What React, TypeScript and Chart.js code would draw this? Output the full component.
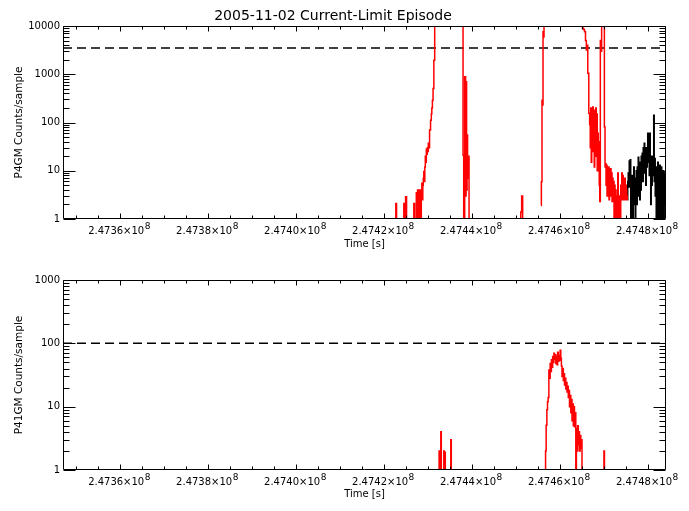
import React, { useEffect, useRef } from "react";
import { Chart, registerables } from "chart.js";

Chart.register(...registerables);

// "Z" marks samples with zero counts (below the log axis)
const Z = 0.5;

const timeRange = [247347000, 247484100];
const xTickValues = [247360000, 247380000, 247400000, 247420000, 247440000, 247460000, 247480000];
const xTickLabels = ["2.4736×10", "2.4738×10", "2.4740×10", "2.4742×10", "2.4744×10", "2.4746×10", "2.4748×10"];
const xTickExponent = "8";
const xMinorStep = 5000;
const topYTicks = [1, 10, 100, 1000, 10000];
const bottomYTicks = [1, 10, 100, 1000];
const p4gmLimit = 3500;
const p41gmLimit = 100;

const p4gmRed: [number, number | null][] = [
  [247347000, Z], [247422614, Z], [247422728, 2.1], [247422955, Z], [247424432, Z], [247424546, 2.1],
  [247424773, Z], [247425000, 2.9], [247425228, Z], [247426705, Z], [247426819, 2.1], [247427046, Z],
  [247427273, Z], [247427387, 3.5],
  [247427500, Z], [247427728, 4], [247427841, Z], [247427955, 3], [247428069, Z], [247428182, 4],
  [247428296, 2], [247428409, Z], [247428523, 3], [247428637, 5.5], [247428750, 2.5], [247428864, 5],
  [247428978, 7], [247429091, 9.6], [247429205, 6], [247429319, 12], [247429432, 20], [247429546, 15],
  [247429659, 28], [247429773, 22], [247429887, 30], [247430000, 25], [247430114, 37], [247430228, 30],
  [247430455, 70], [247430682, 112], [247430796, 150], [247430909, 200], [247431069, 290], [247431205, 508],
  [247431432, 1960], [247431591, 20000], [247435000, 20000], [247437887, 20000], [247438023, 21], [247438182, Z],
  [247438478, 890], [247438591, 3], [247438705, 700], [247438819, 4], [247438932, 55], [247439046, 7],
  [247439205, 20], [247439432, Z], [247451023, Z], [247451137, 1.4], [247451432, 3], [247451591, Z],
  [247455568, null], [247455682, 1.9], [247455841, 5.9], [247455978, 290], [247456069, 230], [247456205, 7600],
  [247456296, 5900], [247456432, 20000], [247460000, 20000], [247465000, 20000], [247465227, 9000], [247465455, 8500],
  [247465682, 7600], [247465909, 5000], [247466069, 3200], [247466205, 4000], [247466432, 1050], [247466659, 156],
  [247466819, 90], [247466932, 30], [247467046, 200], [247467159, 15], [247467273, 120], [247467387, 25],
  [247467500, 210], [247467614, 40], [247467728, 180], [247467841, 12], [247467955, 90], [247468069, 20],
  [247468182, 200], [247468296, 35], [247468409, 150], [247468523, 10], [247468637, 60], [247468750, 25],
  [247468864, 40], [247468978, 5], [247469091, 2.3], [247469250, 5000], [247469387, 3000], [247469546, 20000],
  [247470000, 20000], [247470182, 81], [247470296, 12], [247470409, 14], [247470523, 5], [247470637, 13],
  [247470750, 3], [247470864, 10], [247470978, 4], [247471091, 12], [247471205, 2.5], [247471319, 8],
  [247471432, 3], [247471546, 11], [247471659, 5], [247471773, 9], [247471887, 2.3], [247472000, 7],
  [247472114, 3], [247472228, 6], [247472341, Z], [247472455, 5], [247472569, 2.5], [247472682, 4],
  [247472796, Z], [247472955, 3], [247473069, Z], [247473182, 9], [247473296, Z], [247473409, 2],
  [247473523, Z], [247473637, 3], [247473750, Z], [247473864, 5], [247473978, 2.5], [247474091, 9],
  [247474205, 3], [247474319, 8], [247474432, 2.5], [247474546, 6], [247474659, 3.5], [247474773, 7],
  [247474887, 2.5], [247475000, 5], [247475114, 4], [247475228, 3], [247475341, 2.5],
];

const p4gmBlack: [number, number][] = [
  [247475341, 2.5], [247475455, 6], [247475569, 9], [247475682, 4.6], [247475796, 16], [247475909, 5],
  [247476023, 17], [247476137, Z], [247476250, 6], [247476364, 3], [247476478, 8], [247476591, Z],
  [247476705, 4], [247476819, 12], [247476932, 2], [247477046, 7], [247477160, Z], [247477273, 5],
  [247477387, 10], [247477500, 2], [247477614, 12], [247477728, 3], [247477841, 19], [247477955, 6],
  [247478069, 15], [247478182, 2.5], [247478296, 10], [247478409, 4], [247478523, 20], [247478637, 8],
  [247478750, 23], [247478864, 6], [247478978, 30], [247479091, 10], [247479205, 37], [247479319, 9],
  [247479432, 20], [247479546, 5], [247479660, 30], [247479773, 12], [247479887, 25], [247480000, 60],
  [247480114, 15], [247480228, 40], [247480341, 8], [247480455, 60], [247480569, 20], [247480682, 2],
  [247480796, 14], [247480910, 5], [247481023, 20], [247481137, 8], [247481250, 14], [247481364, 142],
  [247481478, 6], [247481591, 18], [247481705, 3], [247481819, 12], [247481932, Z], [247482046, 8],
  [247482160, 3], [247482273, 15], [247482387, Z], [247482500, 9], [247482614, 2], [247482728, 13],
  [247482841, Z], [247482955, 6], [247483069, 12], [247483182, Z], [247483296, 8], [247483410, 3],
  [247483523, 10], [247483637, Z], [247483750, 7], [247483864, 2], [247483978, 9], [247484091, 4],
];

const p41gmRed: [number, number][] = [
  [247347000, Z], [247432455, Z], [247432569, 2.0], [247432682, Z], [247432841, Z], [247432955, 4.0],
  [247433069, Z], [247433523, Z], [247433637, 2.0], [247433750, Z], [247433864, 1.9], [247433978, Z],
  [247435114, Z], [247435228, 3.0], [247435341, Z], [247456659, Z], [247456773, 2.0], [247456932, 5.1],
  [247457091, 8.9], [247457228, 12], [247457387, 14], [247457546, 38], [247457682, 28], [247457841, 48],
  [247457978, 36], [247458114, 55], [247458250, 42], [247458409, 62], [247458546, 50], [247458682, 70],
  [247458819, 56], [247458978, 66], [247459114, 48], [247459250, 62], [247459387, 46], [247459546, 72],
  [247459682, 52], [247459819, 64], [247459955, 54], [247460114, 78], [247460250, 58], [247460387, 44],
  [247460523, 30], [247460682, 40], [247460819, 26], [247460955, 33], [247461091, 22], [247461250, 28],
  [247461387, 19], [247461523, 24], [247461660, 17], [247461819, 21], [247461955, 14], [247462091, 18],
  [247462228, 10], [247462387, 15], [247462523, 8], [247462660, 13], [247462796, 6], [247462955, 11],
  [247463091, 5], [247463228, 10], [247463364, 4.8], [247463523, 8], [247463660, Z], [247463796, 4.5],
  [247463932, 2.0], [247464091, 5], [247464228, 2.5], [247464364, 4], [247464501, 2], [247464660, 3.5],
  [247464796, 2.2], [247464932, 3], [247465069, Z], [247469932, Z], [247470046, 2.0], [247470160, Z],
  [247484100, Z],
];

const FONT = "'DejaVu Sans', sans-serif";
const X_LABEL_SHIFT = -4;

function pts(arr: [number, number | null][]) {
  return arr.map(([x, y]) => ({ x, y }));
}

function idlAxesPlugin(yMin: number, yMax: number) {
  return {
    id: "idlAxes",
    afterDatasetsDraw(chart: any) {
      const { ctx, chartArea: a, scales } = chart;
      const xs = scales.x;
      const ys = scales.y;
      ctx.save();
      ctx.strokeStyle = "#000";
      ctx.lineWidth = 1;
      const L = Math.round(a.left) + 0.5;
      const R = Math.round(a.right) - 0.5;
      const T = Math.round(a.top) + 0.5;
      const B = Math.round(a.bottom) - 0.5;
      ctx.beginPath();
      ctx.rect(L, T, R - L, B - T);
      const start = xTickValues[0] - 4 * xMinorStep * 4;
      for (let v = start; v <= timeRange[1]; v += xMinorStep) {
        if (v < timeRange[0]) continue;
        const major = xTickValues.includes(v);
        const len = major ? 5 : 3;
        const px = Math.round(xs.getPixelForValue(v)) + 0.5;
        ctx.moveTo(px, B);
        ctx.lineTo(px, B - len);
        ctx.moveTo(px, T);
        ctx.lineTo(px, T + len);
      }
      for (let d = Math.floor(Math.log10(yMin)); d <= Math.ceil(Math.log10(yMax)); d++) {
        for (let m = 1; m <= 9; m++) {
          const v = m * Math.pow(10, d);
          if (v < yMin * 0.999 || v > yMax * 1.001) continue;
          const len = m === 1 ? 12 : 6;
          const py = Math.round(ys.getPixelForValue(v)) + 0.5;
          ctx.moveTo(L, py);
          ctx.lineTo(L + len, py);
          ctx.moveTo(R, py);
          ctx.lineTo(R - len, py);
        }
      }
      ctx.stroke();
      // exponent of the x tick labels
      ctx.fillStyle = "#000";
      ctx.textAlign = "left";
      ctx.textBaseline = "alphabetic";
      xTickValues.forEach((v, i) => {
        ctx.font = `10px ${FONT}`;
        const w = ctx.measureText(xTickLabels[i]).width;
        const px = xs.getPixelForValue(v) + X_LABEL_SHIFT + w / 2 + 0.5;
        ctx.font = `9px ${FONT}`;
        ctx.fillText(xTickExponent, px, a.bottom + 10);
      });
      ctx.restore();
    },
  };
}

function makeConfig(opts: {
  series: { data: [number, number | null][]; color: string }[];
  limit: number;
  yMin: number;
  yMax: number;
  yTicks: number[];
  yTitle: string;
  title?: string;
  padTop: number;
  xAxisHeight: number;
  xTitleBottom: number;
}): any {
  const datasets: any[] = opts.series.map((s) => ({
    data: pts(s.data),
    borderColor: s.color,
    borderWidth: 1.5,
    pointRadius: 0,
    stepped: "middle",
    spanGaps: false,
    clip: 0,
    fill: false,
  }));
  datasets.push({
    data: [
      { x: timeRange[0], y: opts.limit },
      { x: timeRange[1], y: opts.limit },
    ],
    borderColor: "#000",
    borderWidth: 1.5,
    borderDash: [9, 5],
    pointRadius: 0,
    clip: 0,
    fill: false,
  });
  return {
    type: "line",
    data: { datasets },
    options: {
      animation: false,
      responsive: false,
      maintainAspectRatio: false,
      events: [],
      layout: { padding: { left: 0, right: 23, top: opts.padTop, bottom: 0 } },
      plugins: {
        legend: { display: false },
        tooltip: { enabled: false },
        title: opts.title
          ? {
              display: true,
              text: opts.title,
              color: "#000",
              font: { family: FONT, size: 14, weight: "normal" },
              padding: { top: 8, bottom: 1.2 },
            }
          : { display: false },
      },
      scales: {
        x: {
          type: "linear",
          min: timeRange[0],
          max: timeRange[1],
          grid: { display: false, drawTicks: false },
          border: { display: false },
          ticks: {
            color: "#000",
            font: { family: FONT, size: 10 },
            padding: 6,
            labelOffset: X_LABEL_SHIFT,
            maxRotation: 0,
            autoSkip: false,
            callback: (_v: any, i: number) => xTickLabels[i],
          },
          afterBuildTicks: (s: any) => {
            s.ticks = xTickValues.map((v) => ({ value: v }));
          },
          afterFit: (s: any) => {
            s.height = opts.xAxisHeight;
          },
          title: {
            display: true,
            text: "Time [s]",
            color: "#000",
            font: { family: FONT, size: 10 },
            padding: { top: 0, bottom: opts.xTitleBottom },
          },
        },
        y: {
          type: "logarithmic",
          min: opts.yMin,
          max: opts.yMax,
          grid: { display: false, drawTicks: false },
          border: { display: false },
          ticks: {
            color: "#000",
            font: { family: FONT, size: 10 },
            padding: 3,
            autoSkip: false,
            callback: (v: any) => String(v),
          },
          afterBuildTicks: (s: any) => {
            s.ticks = opts.yTicks.map((v) => ({ value: v }));
          },
          afterFit: (s: any) => {
            s.width = 63;
          },
          title: {
            display: true,
            text: opts.yTitle,
            color: "#000",
            font: { family: FONT, size: 10.5 },
            padding: { top: 12.5, bottom: 0 },
          },
        },
      },
    },
    plugins: [idlAxesPlugin(opts.yMin, opts.yMax)],
  };
}

function Panel({ top, height, config }: { top: number; height: number; config: () => any }) {
  const ref = useRef<HTMLCanvasElement>(null);
  useEffect(() => {
    const chart = new Chart(ref.current as HTMLCanvasElement, config());
    return () => chart.destroy();
  }, []);
  return (
    <canvas
      ref={ref}
      width={689}
      height={height}
      style={{ position: "absolute", left: 0, top, width: 689, height }}
    />
  );
}

export default function App() {
  return (
    <div style={{ position: "absolute", left: 0, top: 0, width: 689, height: 511, background: "#fff" }}>
      <Panel
        top={0}
        height={256}
        config={() =>
          makeConfig({
            series: [
              { data: p4gmRed, color: "#ff0000" },
              { data: p4gmBlack, color: "#000000" },
            ],
            limit: p4gmLimit,
            yMin: 1,
            yMax: 10000,
            yTicks: topYTicks,
            yTitle: "P4GM Counts/sample",
            title: "2005-11-02 Current-Limit Episode",
            padTop: 0,
            xAxisHeight: 37,
            xTitleBottom: 5.5,
          })
        }
      />
      <Panel
        top={256}
        height={255}
        config={() =>
          makeConfig({
            series: [{ data: p41gmRed, color: "#ff0000" }],
            limit: p41gmLimit,
            yMin: 1,
            yMax: 1000,
            yTicks: bottomYTicks,
            yTitle: "P41GM Counts/sample",
            padTop: 24,
            xAxisHeight: 41,
            xTitleBottom: 10.5,
          })
        }
      />
    </div>
  );
}
